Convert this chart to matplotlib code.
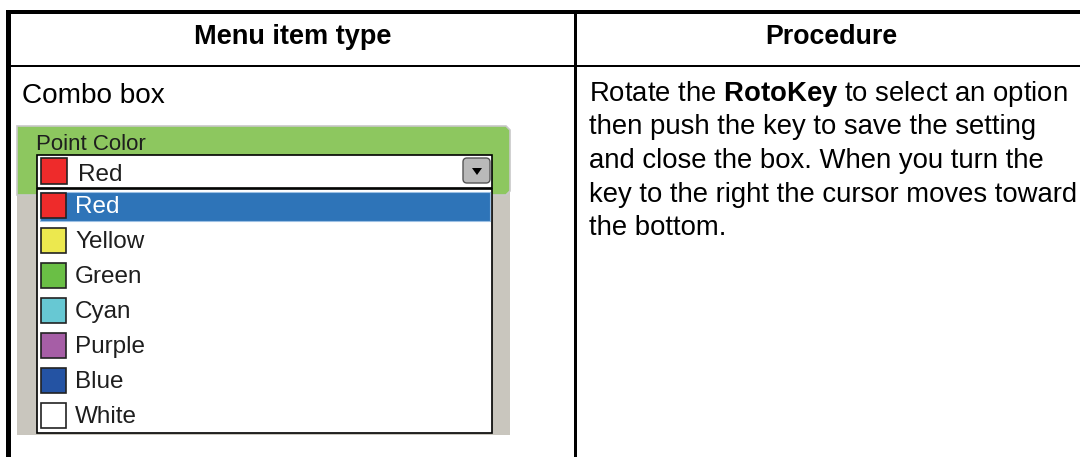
import matplotlib
matplotlib.use("Agg")
import matplotlib.pyplot as plt
from matplotlib.patches import Rectangle, FancyBboxPatch, Polygon

plt.rcParams['font.family'] = ['Liberation Sans', 'DejaVu Sans']
plt.rcParams['mathtext.fontset'] = 'custom'
plt.rcParams['mathtext.rm'] = 'Liberation Sans'
plt.rcParams['mathtext.bf'] = 'Liberation Sans:bold'

# Table content
headers = ['Menu item type', 'Procedure']
item_type = 'Combo box'
widget_label = 'Point Color'
current_value = 'Red'
option_names = ['Red', 'Yellow', 'Green', 'Cyan', 'Purple', 'Blue', 'White']
option_colors = ['#ee2b2b', '#ece84e', '#6abf45', '#67c8d3', '#a65ea6', '#2453a3', '#ffffff']
selected_index = 0
procedure_lines = [
    r'Rotate the $\mathbf{RotoKey}$ to select an option',
    'then push the key to save the setting',
    'and close the box. When you turn the',
    'key to the right the cursor moves toward',
    'the bottom.',
]

W, H = 1080, 457
fig = plt.figure(figsize=(W / 100, H / 100), dpi=100)
ax = fig.add_axes([0, 0, 1, 1])
ax.set_xlim(0, W)
ax.set_ylim(H, 0)
ax.axis('off')


def box(x0, y0, x1, y1, fc, ec='none', lw=0, z=1):
    ax.add_patch(Rectangle((x0, y0), x1 - x0, y1 - y0, facecolor=fc,
                           edgecolor=ec, linewidth=lw, zorder=z))


# table rules
box(6, 10, W, 14, 'black', z=5)        # top rule
box(6, 10, 11, H, 'black', z=5)        # left rule
box(574, 13, 577, H, 'black', z=5)     # column divider
box(6, 65, W, 67, 'black', z=5)        # header rule

# headers
ax.text(292.5, 44, headers[0], fontsize=19.5, fontweight='bold', ha='center', va='baseline')
ax.text(831, 44, headers[1], fontsize=19.3, fontweight='bold', ha='center', va='baseline')

# left cell
ax.text(22, 103, item_type, fontsize=20.2, ha='left', va='baseline')

# widget: grey backdrop + green title panel
box(17, 190, 510, 435, '#c9c6be', z=1)
ax.add_patch(Polygon([(17, 126), (506, 126), (510, 130), (510, 191), (506, 195),
                      (17, 195)], closed=True, facecolor='#8dc75f',
                     edgecolor='#c8c8c8', linewidth=1.2, zorder=2))
ax.text(36, 150, widget_label, fontsize=16, color='#1e1e1e', va='baseline', zorder=6)

# combo field
box(37, 155, 492, 188, 'white', ec='black', lw=1.2, z=3)
box(41, 158, 67, 184, option_colors[option_names.index(current_value)], ec='#222222', lw=1.2, z=4)
ax.text(78, 181, current_value, fontsize=17.5, color='#1e1e1e', va='baseline', zorder=6)
ax.add_patch(FancyBboxPatch((463, 158), 27, 25, boxstyle='round,pad=0,rounding_size=4',
                            facecolor='#b9b9b9', edgecolor='#555555', linewidth=1.0, zorder=4))
ax.add_patch(Polygon([(472, 168), (482, 168), (477, 175)], closed=True,
                     facecolor='black', zorder=5))

# dropdown list
box(37, 189, 492, 433, 'white', ec='black', lw=1.2, z=3)
row_h = 35
for i, (name, col) in enumerate(zip(option_names, option_colors)):
    base = 213 + i * row_h
    txt_col = '#1e1e1e'
    if i == selected_index:
        box(40, base - 21, 490, base + 8, '#2e74b8', ec='#9cc0e4', lw=0.8, z=4)
        txt_col = 'white'
    box(41, base - 20, 66, base + 5, col, ec='#222222', lw=1.2, z=5)
    ax.text(75, base, name, fontsize=17.5, color=txt_col, va='baseline', zorder=6)

# right cell
for i, line in enumerate(procedure_lines):
    ax.text(589, 101 + i * 33.5, line, fontsize=19.8, ha='left', va='baseline')

fig.savefig('out.png', dpi=100, facecolor='white')
